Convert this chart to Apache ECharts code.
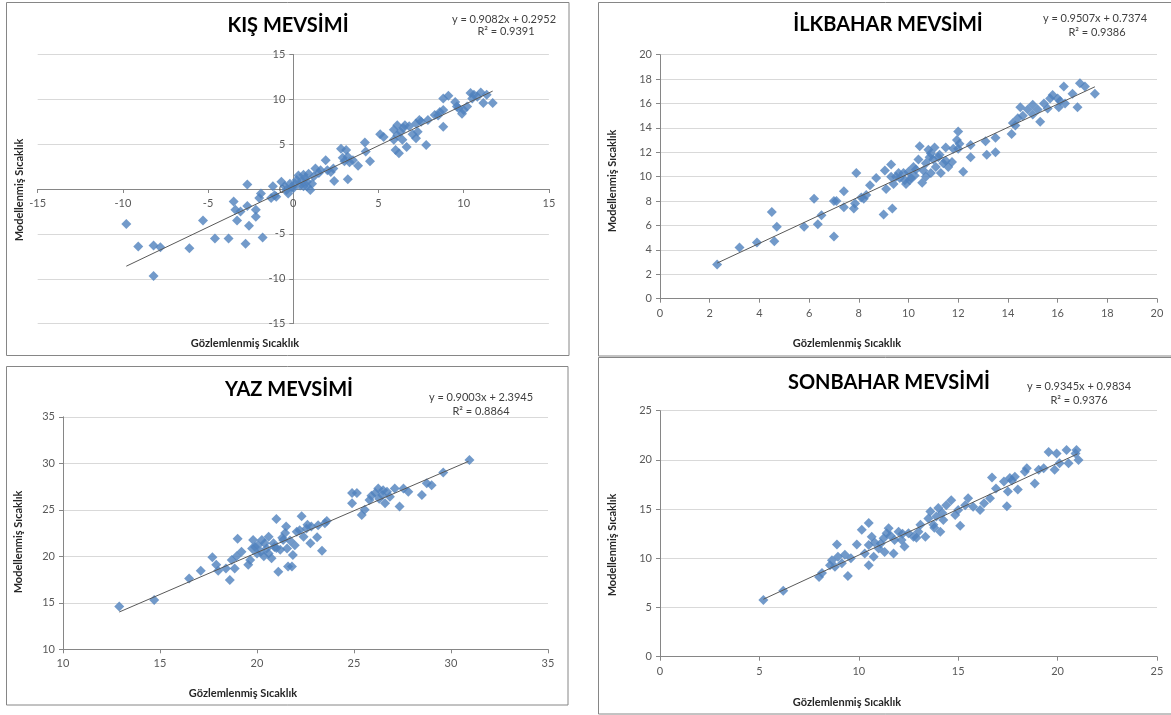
<!DOCTYPE html>
<html>
<head>
<meta charset="utf-8">
<script src="https://cdn.jsdelivr.net/npm/echarts@6/dist/echarts.min.js"></script>
<style>html,body{margin:0;padding:0;background:#fff;}#c{width:1171px;height:715px;}</style>
</head>
<body>
<div id="c"></div>
<script>
// ---- Titles / labels ----
const titles = ['KIŞ MEVSİMİ', 'İLKBAHAR MEVSİMİ', 'YAZ MEVSİMİ', 'SONBAHAR MEVSİMİ'];
const equations = ['y = 0.9082x + 0.2952', 'y = 0.9507x + 0.7374', 'y = 0.9003x + 2.3945', 'y = 0.9345x + 0.9834'];
const rSquared = ['R² = 0.9391', 'R² = 0.9386', 'R² = 0.8864', 'R² = 0.9376'];
const xName = 'Gözlemlenmiş Sıcaklık';
const yName = 'Modellenmiş Sıcaklık';

// ---- Axis ranges [min, max, interval] ----
const kisX = [-15, 15, 5], kisY = [-15, 15, 5];
const ilkX = [0, 20, 2], ilkY = [0, 20, 2];
const yazX = [10, 35, 5], yazY = [10, 35, 5];
const sonX = [0, 25, 5], sonY = [0, 25, 5];

// ---- Data: [observed, modelled] ----
const kisPoints = [
[-9.8,-3.9],[-9.1,-6.4],[-8.2,-6.3],[-7.8,-6.5],[-8.2,-9.7],[-6.1,-6.6],[-5.3,-3.5],[-4.6,-5.5],[-3.8,-5.5],[-3.5,-1.4],
[-3.4,-2.3],[-3.3,-3.5],[-3.1,-2.5],[-2.7,0.5],[-2.7,-1.9],[-2.6,-4.1],[-2.8,-6.1],[-2.2,-3.1],[-2.2,-2.3],[-1.8,-5.4],
[-2.0,-1.0],[-1.9,-0.5],[-1.3,-1.0],[-1.2,0.3],[-1.1,-0.7],[-1.0,-0.85],[-0.7,0.8],[-0.5,0.3],[-0.3,-0.5],[-0.2,0.6],
[0.0,0.1],[0.2,1.0],[0.3,1.5],[0.4,0.4],[0.6,0.3],[0.7,1.2],[0.8,0.8],[0.9,1.7],[1.0,-0.1],[1.1,0.6],
[1.3,2.3],[1.6,2.1],[1.9,3.2],[2.0,2.1],[2.35,2.3],[2.4,0.9],[2.8,4.5],[3.0,3.1],[3.1,4.35],[3.2,3.6],
[3.2,1.1],[3.5,3.2],[3.8,2.6],[4.2,5.2],[4.25,4.2],[4.5,3.1],[5.1,6.1],[5.3,5.8],[5.9,6.6],[6.0,4.35],
[6.2,4.0],[6.1,7.1],[6.3,6.4],[6.45,6.8],[6.55,7.1],[6.4,5.5],[6.65,4.7],[7.2,7.3],[7.3,6.4],[7.2,5.65],
[7.4,7.7],[7.8,4.9],[7.9,7.7],[8.3,8.25],[8.6,8.6],[8.8,8.8],[8.8,6.95],[8.8,10.1],[9.1,10.4],[9.5,9.7],
[9.7,9.0],[10.0,8.8],[10.2,9.2],[10.4,10.7],[10.6,10.5],[11.0,10.75],[11.15,9.6],[11.35,10.5],[11.7,9.6],[9.9,8.4],
[10.8,10.3],[0.5,0.9],[0.1,0.6],[-0.1,0.2],[0.8,0.3],[1.2,1.4],[0.6,1.6],[-0.4,-0.1],[2.2,1.9],[1.5,1.8],
[5.9,5.5],[6.1,6.0],[6.8,7.0],[7.5,7.5],[8.5,8.2],[9.6,9.2],[10.5,10.1],[7.0,6.1],[3.3,3.0],[2.9,3.5]
];
const ilkPoints = [
[2.3,2.8],[3.2,4.2],[3.9,4.6],[4.5,7.1],[4.6,4.7],[4.7,5.9],[5.8,5.9],[6.2,8.2],[6.35,6.1],[6.5,6.85],
[7.0,5.1],[7.0,8.0],[7.1,8.0],[7.4,8.8],[7.4,7.5],[7.8,7.4],[7.85,7.8],[7.9,10.3],[8.2,8.2],[8.3,8.5],
[8.45,9.3],[8.7,9.9],[9.05,10.5],[9.0,6.9],[9.35,7.4],[9.1,9.0],[9.3,10.0],[9.3,11.0],[9.4,9.4],[9.5,10.0],
[9.65,9.9],[9.8,10.3],[9.85,9.7],[10.0,10.4],[10.05,9.7],[10.2,10.8],[10.25,10.1],[10.4,11.4],[10.45,12.5],[10.55,9.5],
[10.6,10.5],[10.7,11.1],[10.8,12.2],[10.85,11.6],[10.9,10.3],[11.0,11.4],[11.05,12.4],[11.1,10.8],[11.25,11.8],[11.3,10.3],
[11.4,11.1],[11.5,12.4],[11.6,10.8],[11.75,11.2],[11.8,12.3],[11.95,13.0],[12.0,13.7],[12.05,12.7],[12.2,10.4],[12.5,11.6],
[12.5,12.6],[13.1,12.9],[13.15,11.8],[13.5,12.0],[13.5,13.2],[14.15,13.5],[14.2,14.4],[14.4,14.8],[14.5,15.7],[14.6,15.0],
[14.8,15.5],[15.0,15.9],[15.2,15.5],[15.3,14.5],[15.45,16.0],[15.7,16.4],[15.8,16.7],[16.05,15.7],[16.1,16.2],[16.25,17.4],
[16.3,16.0],[16.6,16.8],[16.8,15.7],[16.9,17.65],[17.1,17.4],[17.5,16.8],[10.3,10.6],[10.7,10.0],[11.2,11.6],[10.1,9.9],
[9.6,10.3],[10.9,11.9],[11.5,11.3],[15.6,15.6],[14.3,14.2],[15.0,15.1],[16.0,16.4],[12.0,12.3],[8.1,8.3],[9.9,9.4]
];
const yazPoints = [
[12.9,14.6],[14.7,15.3],[16.5,17.6],[17.1,18.45],[17.7,19.9],[17.9,19.1],[18.0,18.45],[18.4,18.7],[18.6,17.45],[18.85,18.7],
[18.7,19.6],[18.95,20.0],[19.0,21.9],[19.2,20.5],[19.55,19.1],[19.65,19.6],[19.75,20.85],[19.8,21.75],[20.0,20.3],[20.05,21.2],
[20.25,21.75],[20.35,20.0],[20.5,20.85],[20.6,22.1],[20.75,19.8],[20.85,21.4],[21.0,24.0],[21.1,18.35],[21.2,20.7],[21.35,21.75],
[21.45,22.5],[21.55,20.85],[21.6,18.9],[21.8,18.9],[21.85,20.15],[21.95,21.2],[22.05,22.65],[22.3,24.3],[22.4,22.1],[22.55,23.0],
[22.75,21.4],[23.1,22.05],[23.15,23.35],[23.35,20.6],[23.5,23.55],[23.6,23.8],[24.9,26.8],[24.9,25.7],[25.15,26.8],[25.4,24.45],
[25.55,25.0],[25.8,26.05],[26.1,26.8],[26.25,27.3],[26.45,26.6],[26.6,25.7],[26.7,26.95],[26.85,26.4],[27.1,27.3],[27.35,25.35],
[27.55,27.3],[27.8,26.95],[28.5,26.6],[28.75,27.85],[29.0,27.65],[29.6,29.0],[30.95,30.35],[20.2,20.5],[20.9,21.0],[21.3,22.0],
[21.7,21.7],[19.9,21.0],[20.6,20.3],[21.5,23.2],[22.2,22.8],[22.6,23.4],[26.3,26.2],[26.5,27.1],[25.9,26.5],[21.0,20.9],
[20.4,21.4],[22.8,23.2]
];
const sonPoints = [
[5.2,5.75],[6.2,6.7],[8.0,8.1],[8.15,8.5],[8.55,9.3],[8.65,9.8],[8.9,11.4],[8.8,9.15],[8.95,10.15],[9.15,9.5],
[9.3,10.35],[9.45,8.2],[9.9,11.4],[10.15,12.9],[10.3,10.5],[10.5,13.6],[10.5,11.35],[10.5,9.3],[10.65,12.2],[10.75,10.15],
[11.0,11.0],[11.25,12.05],[11.4,12.55],[11.3,10.65],[11.5,13.05],[11.75,10.5],[11.8,11.85],[12.0,12.7],[12.15,11.85],[12.3,11.2],
[12.5,12.55],[12.75,12.2],[13.0,12.7],[13.1,13.4],[13.35,12.2],[13.5,14.05],[13.6,14.75],[13.75,13.4],[13.9,14.25],[14.0,15.1],
[14.1,12.7],[14.25,13.9],[14.4,15.4],[14.65,15.9],[14.85,14.4],[15.0,14.9],[15.1,13.3],[15.35,15.4],[15.5,16.1],[15.75,15.25],
[16.1,14.9],[16.6,16.1],[16.7,18.2],[16.9,17.1],[17.3,17.8],[17.45,15.3],[17.5,16.8],[17.6,18.15],[17.85,18.3],[18.0,17.0],
[18.35,18.8],[18.45,19.15],[18.85,17.6],[19.05,19.0],[19.3,19.15],[19.55,20.8],[19.85,19.0],[19.95,20.65],[20.1,19.65],[20.45,21.0],
[20.55,19.65],[20.95,21.0],[21.05,20.0],[20.9,20.65],[11.6,12.3],[12.2,12.5],[13.8,13.1],[14.2,14.6],[12.9,12.1],[11.1,11.5],
[9.6,10.0],[10.8,11.6],[16.3,15.6],[17.7,17.9]
];

// ---- Trend line end points ----
const kisTrend = [[-9.8,-8.6],[11.7,10.92]];
const ilkTrend = [[2.3,2.92],[17.5,17.37]];
const yazTrend = [[12.9,14.01],[30.9,30.21]];
const sonTrend = [[5.2,5.84],[21.0,20.61]];

const FONT = 'Lato, "Noto Sans", sans-serif';
const grids = [
  {left: 37.7, top: 54.5, width: 511.2, height: 269.1},
  {left: 660, top: 54.7, width: 497, height: 244},
  {left: 63, top: 416.8, width: 485, height: 232.5},
  {left: 660, top: 410.7, width: 497, height: 246}
];
// axis offsets so that the first panel's axes (with their labels) cross at zero
const xOffsets = [-134.6, 0, 0, 0];
const yOffsets = [-255.6, 0, 0, 0];
const xr = [kisX, ilkX, yazX, sonX];
const yr = [kisY, ilkY, yazY, sonY];
const pts = [kisPoints, ilkPoints, yazPoints, sonPoints];
const trends = [kisTrend, ilkTrend, yazTrend, sonTrend];

const axisCommon = {
  type: 'value',
  axisLine: {show: true, onZero: false, lineStyle: {color: '#868686', width: 1}},
  axisTick: {show: true, length: 4, lineStyle: {color: '#868686'}},
  axisLabel: {color: '#595959', fontSize: 11, fontFamily: FONT},
};
const xAxes = xr.map((r, i) => Object.assign({}, axisCommon, {
  gridIndex: i, min: r[0], max: r[1], interval: r[2], position: 'bottom', offset: xOffsets[i],
  splitLine: {show: false},
  axisLabel: Object.assign({}, axisCommon.axisLabel, {margin: 9})
}));
const yAxes = yr.map((r, i) => Object.assign({}, axisCommon, {
  gridIndex: i, min: r[0], max: r[1], interval: r[2], position: 'left', offset: yOffsets[i],
  splitLine: {show: true, lineStyle: {color: '#D9D9D9', width: 1}},
  axisLabel: Object.assign({}, axisCommon.axisLabel, {margin: 8})
}));

const series = [];
pts.forEach((p, i) => {
  series.push({
    type: 'scatter', xAxisIndex: i, yAxisIndex: i, data: p,
    symbol: 'diamond', symbolSize: [10, 10],
    itemStyle: {color: '#4F81BD'}, silent: true, z: 2
  });
  series.push({
    type: 'line', xAxisIndex: i, yAxisIndex: i, data: trends[i],
    symbol: 'none', lineStyle: {color: '#595959', width: 1}, silent: true, z: 3
  });
});

function txt(x, y, text, font, color, rot) {
  return {type: 'text', x: x, y: y, rotation: rot || 0, silent: true,
    style: {text: text, font: font, fill: color, textAlign: 'center', textVerticalAlign: 'middle', align: 'center', verticalAlign: 'middle'}};
}
function frame(x, y, w, h) {
  return {type: 'rect', silent: true, z: -1, shape: {x: x, y: y, width: w, height: h},
    style: {fill: 'none', stroke: '#868686', lineWidth: 1}};
}
const TF = 'bold 20px ' + FONT;
const EF = '11px ' + FONT;
const NF = 'bold 11px ' + FONT;
const graphic = [
  frame(6.5, 2.5, 562.5, 353),
  frame(598.5, 2.5, 580, 353.5),
  frame(6.5, 366.5, 561.5, 338.5),
  frame(598.5, 357.5, 580, 356.5),
  txt(288, 26, titles[0], TF, '#000'),
  txt(888, 25, titles[1], TF, '#000'),
  txt(289, 390, titles[2], TF, '#000'),
  txt(889, 383, titles[3], TF, '#000'),
  txt(504, 19.5, equations[0], EF, '#404040'),
  txt(506, 31, rSquared[0], EF, '#404040'),
  txt(1095, 18, equations[1], EF, '#404040'),
  txt(1097, 32, rSquared[1], EF, '#404040'),
  txt(481, 397, equations[2], EF, '#404040'),
  txt(481, 411, rSquared[2], EF, '#404040'),
  txt(1079, 386, equations[3], EF, '#404040'),
  txt(1079, 400, rSquared[3], EF, '#404040'),
  txt(19, 190, yName, NF, '#262626', Math.PI / 2),
  txt(612, 181, yName, NF, '#262626', Math.PI / 2),
  txt(18, 542, yName, NF, '#262626', Math.PI / 2),
  txt(612, 545, yName, NF, '#262626', Math.PI / 2),
  txt(245, 343, xName, NF, '#262626'),
  txt(847, 343, xName, NF, '#262626'),
  txt(243, 693, xName, NF, '#262626'),
  txt(847, 702, xName, NF, '#262626')
];

const chart = echarts.init(document.getElementById('c'), null, {renderer: 'canvas'});
chart.setOption({
  animation: false,
  backgroundColor: '#fff',
  grid: grids,
  xAxis: xAxes,
  yAxis: yAxes,
  series: series,
  graphic: graphic
});
</script>
</body>
</html>
